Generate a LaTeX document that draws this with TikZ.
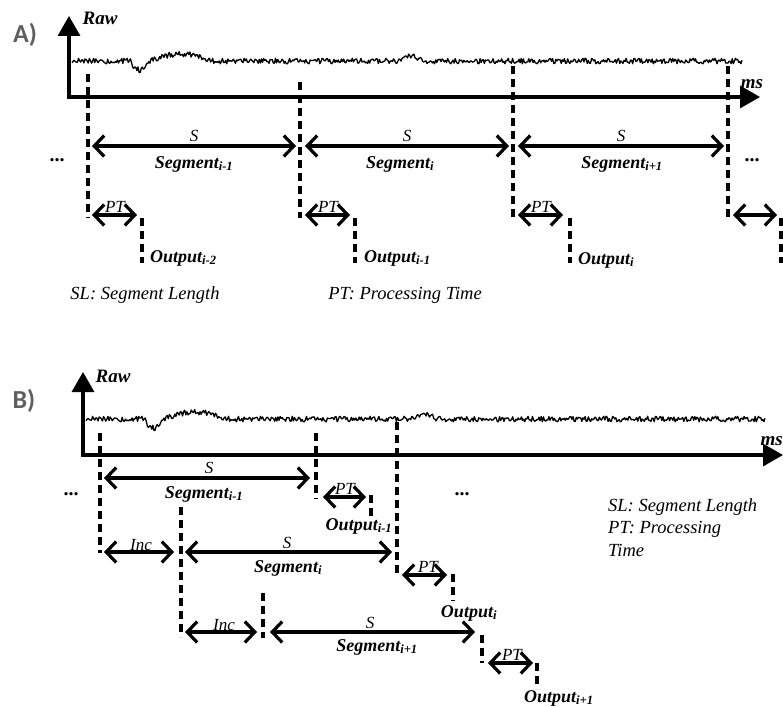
\documentclass[tikz,border=0pt]{standalone}
\usepackage{fontspec}
\setmainfont{Liberation Serif}
\newfontfamily\tnr{Liberation Serif}
\newfontfamily\panelfont{Carlito}
\usetikzlibrary{arrows.meta}
\definecolor{panelgray}{RGB}{95,95,95}
\newcommand\mysignal[1]{%
  \pgfmathsetseed{4242}%
  \draw[line width=1.3pt, line join=round] plot[domain=0:#1, samples=620]
    (\x, {2.8*rand + (\x>58)*(\x<78)*9*sin((\x-58)*9)
      - (\x>78)*(\x<140)*7*sin((\x-78)*2.9)
      - (\x>325)*(\x<350)*5*sin((\x-325)*7.2)});
}
\tikzset{
  axis/.style={line width=3.4pt, line join=miter,
    {Triangle[length=20pt,width=22pt]}-{Triangle[length=20pt,width=22pt]}},
  dimarrow/.style={line width=3.2pt,
    {Straight Barb[length=10pt,width=21pt,line width=3.2pt]}-{Straight Barb[length=10pt,width=21pt,line width=3.2pt]}},
  dashline/.style={draw=black, line width=3.4pt, dash pattern=on 8pt off 5pt},
  seglab/.style={font=\tnr\bfseries\itshape\fontsize{18}{18}\selectfont, inner sep=0pt},
  smalllab/.style={font=\tnr\itshape\fontsize{17}{17}\selectfont, inner sep=0pt},
  leglab/.style={font=\tnr\itshape\fontsize{18.5}{21}\selectfont, inner sep=0pt},
  dotlab/.style={font=\tnr\bfseries\fontsize{20}{20}\selectfont, inner sep=0pt},
  axlab/.style={font=\tnr\bfseries\itshape\fontsize{19}{19}\selectfont, inner sep=0pt},
  panellab/.style={font=\panelfont\bfseries\fontsize{26}{26}\selectfont, text=panelgray, inner sep=0pt},
}
\begin{document}
\begin{tikzpicture}[x=1pt,y=-1pt]
\useasboundingbox (0,0) rectangle (783,706);

%%%%%%%%%%%%%%%% Panel A
\node[panellab] (pA) at (25,35) {A)};
\coordinate (Atop) at (69,16);
\coordinate (Aorig) at (69,97);
\coordinate (Aend) at (760,97);
\draw[axis] (Atop) -- (Aorig) -- (Aend);
\node[axlab] (rawA) at (100,18) {Raw};
\node[axlab] (msA) at (752,84) {ms};
\begin{scope}[shift={(72,61)}]
  \mysignal{670}
\end{scope}

% vertical dashed lines
\coordinate (Av1t) at (88,74);  \coordinate (Av1b) at (88,218);
\coordinate (Av2t) at (300,82); \coordinate (Av2b) at (300,218);
\coordinate (Av3t) at (513,66); \coordinate (Av3b) at (513,218);
\coordinate (Av4t) at (728,66); \coordinate (Av4b) at (728,218);
\draw[dashline] (Av1t) -- (Av1b);
\draw[dashline] (Av2t) -- (Av2b);
\draw[dashline] (Av3t) -- (Av3b);
\draw[dashline] (Av4t) -- (Av4b);
\coordinate (Ao1t) at (142,218); \coordinate (Ao1b) at (142,263);
\coordinate (Ao2t) at (355,218); \coordinate (Ao2b) at (355,263);
\coordinate (Ao3t) at (570,218); \coordinate (Ao3b) at (570,263);
\coordinate (Ao4t) at (781,218); \coordinate (Ao4b) at (781,263);
\draw[dashline] (Ao1t) -- (Ao1b);
\draw[dashline] (Ao2t) -- (Ao2b);
\draw[dashline] (Ao3t) -- (Ao3b);
\draw[dashline] (Ao4t) -- (Ao4b);
% segment arrows
\coordinate (As1a) at (92,146);  \coordinate (As1b) at (296,146);
\coordinate (As2a) at (305,146); \coordinate (As2b) at (509,146);
\coordinate (As3a) at (518,146); \coordinate (As3b) at (724,146);
\draw[dimarrow] (As1a) -- (As1b);
\draw[dimarrow] (As2a) -- (As2b);
\draw[dimarrow] (As3a) -- (As3b);
\node[smalllab] (AS1) at (194,136) {S};
\node[smalllab] (AS2) at (407,136) {S};
\node[smalllab] (AS3) at (621,136) {S};
\node[seglab] (Aseg1) at (194,164) {Segment\textsubscript{i-1}};
\node[seglab] (Aseg2) at (400,164) {Segment\textsubscript{i}};
\node[seglab] (Aseg3) at (622,164) {Segment\textsubscript{i+1}};
\node[dotlab] (Adots1) at (57,160) {...};
\node[dotlab] (Adots2) at (752,160) {...};
% PT arrows
\coordinate (Ap1a) at (92,215);  \coordinate (Ap1b) at (137,215);
\coordinate (Ap2a) at (305,215); \coordinate (Ap2b) at (350,215);
\coordinate (Ap3a) at (518,215); \coordinate (Ap3b) at (563,215);
\coordinate (Ap4a) at (733,215); \coordinate (Ap4b) at (777,215);
\draw[dimarrow] (Ap1a) -- (Ap1b);
\draw[dimarrow] (Ap2a) -- (Ap2b);
\draw[dimarrow] (Ap3a) -- (Ap3b);
\draw[dimarrow] (Ap4a) -- (Ap4b);
\node[smalllab] (APT1) at (115,207) {PT};
\node[smalllab] (APT2) at (328,207) {PT};
\node[smalllab] (APT3) at (541,207) {PT};
\node[seglab, anchor=west] (Aout1) at (150,258) {Output\textsubscript{i-2}};
\node[seglab, anchor=west] (Aout2) at (364,258) {Output\textsubscript{i-1}};
\node[seglab, anchor=west] (Aout3) at (578,260) {Output\textsubscript{i}};
\node[leglab] (Aleg1) at (145,295) {SL: Segment Length};
\node[leglab] (Aleg2) at (405,295) {PT: Processing Time};

%%%%%%%%%%%%%%%% Panel B
\node[panellab] (pB) at (24,401) {B)};
\coordinate (Btop) at (83,372);
\coordinate (Borig) at (83,455);
\coordinate (Bend) at (783,455);
\draw[axis] (Btop) -- (Borig) -- (Bend);
\node[axlab] (rawB) at (113,376) {Raw};
\node[axlab, anchor=east] (msB) at (783,441) {ms};
\begin{scope}[shift={(86,419)}]
  \mysignal{679}
\end{scope}

% main dashed lines
\coordinate (Bv1t) at (100,433); \coordinate (Bv1b) at (100,553);
\coordinate (Bv2t) at (316,433); \coordinate (Bv2b) at (316,499);
\coordinate (Bv3t) at (397,422); \coordinate (Bv3b) at (397,577);
\coordinate (Bv4t) at (181,507); \coordinate (Bv4b) at (181,637);
\coordinate (Bv5t) at (263,593); \coordinate (Bv5b) at (263,638);
\coordinate (Bv6t) at (482,635); \coordinate (Bv6b) at (482,663);
\draw[dashline] (Bv1t) -- (Bv1b);
\draw[dashline] (Bv2t) -- (Bv2b);
\draw[dashline] (Bv3t) -- (Bv3b);
\draw[dashline] (Bv4t) -- (Bv4b);
\draw[dashline] (Bv5t) -- (Bv5b);
\draw[dashline] (Bv6t) -- (Bv6b);
% output dashes
\coordinate (Bo1t) at (371,495); \coordinate (Bo1b) at (371,521);
\coordinate (Bo2t) at (453,574); \coordinate (Bo2b) at (453,601);
\coordinate (Bo3t) at (537,663); \coordinate (Bo3b) at (537,689);
\draw[dashline] (Bo1t) -- (Bo1b);
\draw[dashline] (Bo2t) -- (Bo2b);
\draw[dashline] (Bo3t) -- (Bo3b);

% segment arrows
\coordinate (Bs1a) at (104,478); \coordinate (Bs1b) at (310,478);
\coordinate (Bs2a) at (185,552); \coordinate (Bs2b) at (392,552);
\coordinate (Bs3a) at (270,632); \coordinate (Bs3b) at (475,632);
\draw[dimarrow] (Bs1a) -- (Bs1b);
\draw[dimarrow] (Bs2a) -- (Bs2b);
\draw[dimarrow] (Bs3a) -- (Bs3b);
\node[smalllab] (BS1) at (209,468) {S};
\node[smalllab] (BS2) at (287,543) {S};
\node[smalllab] (BS3) at (370,623) {S};
\node[seglab] (Bseg1) at (204,494) {Segment\textsubscript{i-1}};
\node[seglab] (Bseg2) at (288,568) {Segment\textsubscript{i}};
\node[seglab] (Bseg3) at (377,647) {Segment\textsubscript{i+1}};
% inc arrows
\coordinate (Bi1a) at (104,552); \coordinate (Bi1b) at (174,552);
\coordinate (Bi2a) at (185,632); \coordinate (Bi2b) at (257,632);
\draw[dimarrow] (Bi1a) -- (Bi1b);
\draw[dimarrow] (Bi2a) -- (Bi2b);
\node[smalllab] (BI1) at (141,545) {Inc};
\node[smalllab] (BI2) at (224,625) {Inc};
% PT arrows
\coordinate (Bp1a) at (323,497); \coordinate (Bp1b) at (366,497);
\coordinate (Bp2a) at (402,575); \coordinate (Bp2b) at (447,575);
\coordinate (Bp3a) at (488,663); \coordinate (Bp3b) at (533,663);
\draw[dimarrow] (Bp1a) -- (Bp1b);
\draw[dimarrow] (Bp2a) -- (Bp2b);
\draw[dimarrow] (Bp3a) -- (Bp3b);
\node[smalllab] (BPT1) at (345,489) {PT};
\node[smalllab] (BPT2) at (428,567) {PT};
\node[smalllab] (BPT3) at (512,655) {PT};
\node[seglab] (Bout1) at (359,526) {Output\textsubscript{i-1}};
\node[seglab] (Bout2) at (469,613) {Output\textsubscript{i}};
\node[seglab, anchor=west] (Bout3) at (524,698) {Output\textsubscript{i+1}};
\node[dotlab] (Bdots1) at (71,494) {...};
\node[dotlab] (Bdots2) at (462,494) {...};
\node[leglab, anchor=west] (Bleg1) at (608,507) {SL: Segment Length};
\node[leglab, anchor=west] (Bleg2) at (608,529) {PT: Processing};
\node[leglab, anchor=west] (Bleg3) at (608,550) {Time};
\end{tikzpicture}
\end{document}
